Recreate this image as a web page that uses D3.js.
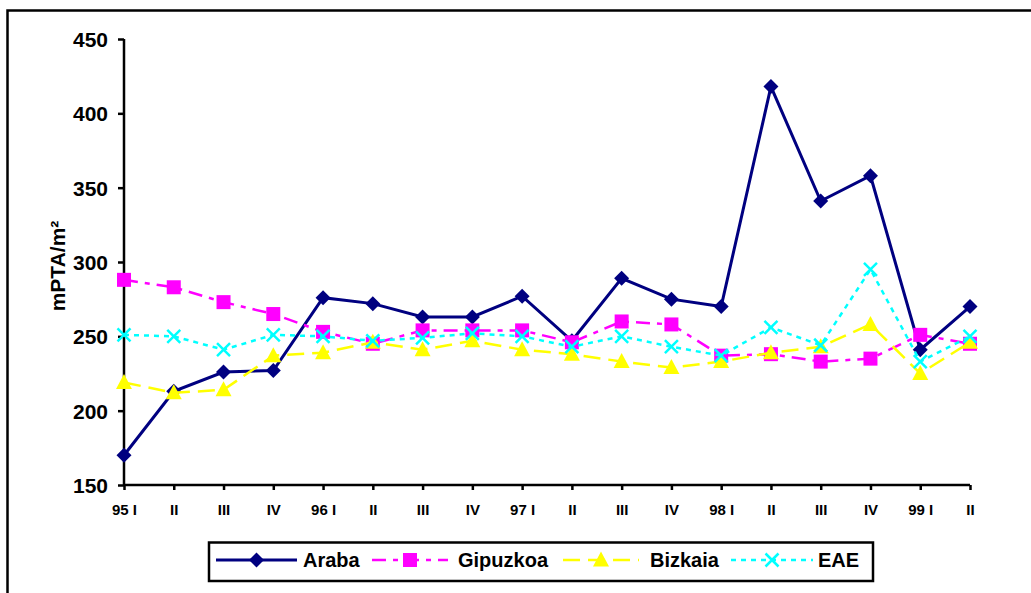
<!DOCTYPE html>
<html>
<head>
<meta charset="utf-8">
<script src="https://cdn.jsdelivr.net/npm/d3@7"></script>
<style>
  html, body { margin: 0; padding: 0; background: #fff; }
  svg { display: block; }
  svg text { font-family: "Liberation Sans", Arial, sans-serif; font-weight: bold; fill: #000; }
</style>
</head>
<body>
<svg id="chart" width="1031" height="593"></svg>
<script>
// Quarterly price per square metre (mPTA/m²), 1995 Q1 – 1999 Q2
const quarters = ["95 I", "II", "III", "IV", "96 I", "II", "III", "IV", "97 I", "II", "III", "IV", "98 I", "II", "III", "IV", "99 I", "II"];
const araba    = [170, 213, 226, 227, 276, 272, 263, 263, 277, 247, 289, 275, 270, 418, 341, 358, 241, 270];
const gipuzkoa = [288, 283, 273, 265, 253, 245, 254, 254, 254, 246, 260, 258, 237, 238, 233, 235, 251, 245];
const bizkaia  = [219, 212, 214, 237, 239, 246, 241, 247, 241, 238, 233, 229, 233, 239, 243, 258, 225, 246];
const eae      = [251, 250, 241, 251, 250, 247, 249, 252, 250, 243, 250, 243, 237, 256, 244, 295, 233, 250];
const yTicks   = [150, 200, 250, 300, 350, 400, 450];

const series = [
  { name: "Araba",    values: araba,    color: "#000080", width: 3,   dash: null,        marker: "diamond" },
  { name: "Gipuzkoa", values: gipuzkoa, color: "#FF00FF", width: 2.5, dash: "14,7,5,7",  marker: "square" },
  { name: "Bizkaia",  values: bizkaia,  color: "#FFFF00", width: 2.5, dash: "17,8",      marker: "triangle" },
  { name: "EAE",      values: eae,      color: "#00FFFF", width: 2.5, dash: "5,5",       marker: "x" }
];

const svg = d3.select("#chart");

// outer frame (left and top edges visible)
svg.append("path")
  .attr("d", "M7.5,600 V10.5 H1040")
  .attr("fill", "none").attr("stroke", "#000").attr("stroke-width", 2.5);

const plot = { left: 124, right: 970, top: 39, bottom: 485 };

const x = d3.scalePoint().domain(d3.range(quarters.length)).range([plot.left, plot.right]);
const y = d3.scaleLinear().domain([150, 450]).range([plot.bottom, plot.top]);

// y axis
const yAxis = svg.append("g")
  .attr("transform", `translate(${plot.left},0)`)
  .call(d3.axisLeft(y).tickValues(yTicks).tickSize(6).tickPadding(10).tickFormat(d3.format("d")));
yAxis.attr("font-family", null).attr("font-size", null);
yAxis.select(".domain").attr("stroke-width", 2.5).attr("d", `M0,${plot.top}V${plot.bottom}`);
yAxis.selectAll(".tick line").attr("stroke-width", 2.5);
yAxis.selectAll(".tick text").style("font-size", "21px").attr("dy", "0.36em");

// x axis
const xAxis = svg.append("g")
  .attr("transform", `translate(0,${plot.bottom})`)
  .call(d3.axisBottom(x).tickSize(5).tickPadding(0).tickFormat(i => quarters[i]));
xAxis.attr("font-family", null).attr("font-size", null);
xAxis.select(".domain").attr("stroke-width", 2.5).attr("d", `M${plot.left},0H${plot.right}`);
xAxis.selectAll(".tick line").attr("stroke-width", 2.5);
xAxis.selectAll(".tick text").style("font-size", "15px").attr("y", 30).attr("dy", null);

// y axis title
svg.append("text")
  .attr("transform", `translate(65,${(plot.top + plot.bottom) / 2 + 4}) rotate(-90)`)
  .attr("text-anchor", "middle")
  .style("font-size", "21px")
  .text("mPTA/m²");

// marker shapes
function drawMarker(g, type, color, cx, cy) {
  if (type === "diamond") {
    g.append("path").attr("d", `M${cx},${cy - 7.5}L${cx + 7.5},${cy}L${cx},${cy + 7.5}L${cx - 7.5},${cy}Z`).attr("fill", color);
  } else if (type === "square") {
    g.append("rect").attr("x", cx - 7).attr("y", cy - 7).attr("width", 14).attr("height", 14).attr("fill", color);
  } else if (type === "triangle") {
    g.append("path").attr("d", `M${cx},${cy - 8.5}L${cx + 8},${cy + 6.5}L${cx - 8},${cy + 6.5}Z`).attr("fill", color);
  } else if (type === "x") {
    g.append("path").attr("d", `M${cx - 6.5},${cy - 6.5}L${cx + 6.5},${cy + 6.5}M${cx + 6.5},${cy - 6.5}L${cx - 6.5},${cy + 6.5}`)
      .attr("stroke", color).attr("stroke-width", 2.5).attr("fill", "none");
  }
}

const line = d3.line().x((d, i) => x(i)).y(d => y(d));

series.forEach(s => {
  const g = svg.append("g");
  g.append("path")
    .attr("d", line(s.values))
    .attr("fill", "none")
    .attr("stroke", s.color)
    .attr("stroke-width", s.width)
    .attr("stroke-dasharray", s.dash);
  s.values.forEach((v, i) => drawMarker(g, s.marker, s.color, x(i), y(v)));
});

// legend
const legend = svg.append("g");
legend.append("rect")
  .attr("x", 209).attr("y", 542.5).attr("width", 664).attr("height", 38.5)
  .attr("fill", "#fff").attr("stroke", "#000").attr("stroke-width", 2.5);

const legendPos = [
  { x0: 216, x1: 297, tx: 303 },
  { x0: 372, x1: 448, tx: 458 },
  { x0: 563, x1: 639, tx: 650 },
  { x0: 731, x1: 813, tx: 818 }
];
const ly = 560;
series.forEach((s, k) => {
  const p = legendPos[k];
  const g = legend.append("g");
  g.append("line")
    .attr("x1", p.x0).attr("x2", p.x1).attr("y1", ly).attr("y2", ly)
    .attr("stroke", s.color).attr("stroke-width", s.width)
    .attr("stroke-dasharray", s.dash);
  drawMarker(g, s.marker, s.color, (p.x0 + p.x1) / 2, ly);
  g.append("text")
    .attr("x", p.tx).attr("y", 567)
    .style("font-size", "20px")
    .text(s.name);
});
</script>
</body>
</html>
